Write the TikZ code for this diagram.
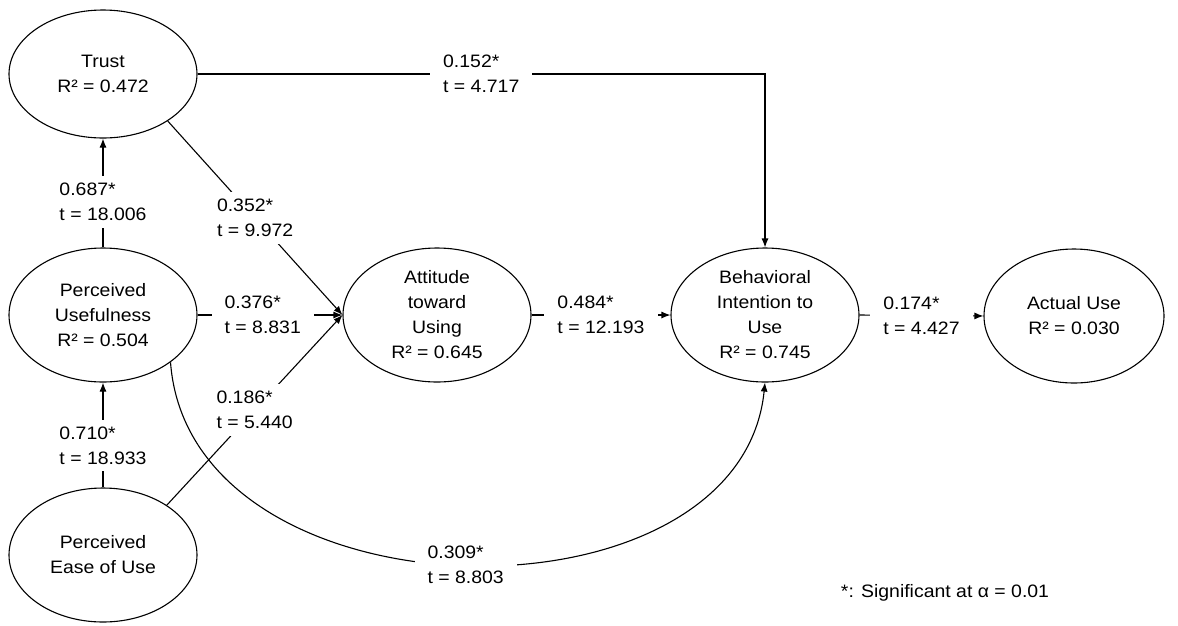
\documentclass[tikz,border=0pt]{standalone}
\usepackage{fontspec}
\setmainfont[FakeStretch=1.08]{Liberation Sans}
\usetikzlibrary{arrows.meta, shapes.geometric}

\begin{document}
\begin{tikzpicture}[
  x=1pt, y=-1pt,
  every node/.style={font=\fontsize{18}{25}\selectfont, align=center},
  construct/.style={ellipse, draw, line width=1.1pt, minimum width=188pt,
                    minimum height=134pt, inner xsep=0pt, inner ysep=-20pt},
  coef/.style     ={fill=white, align=left, inner xsep=13pt, inner ysep=7pt},
  arr/.style      ={-{Latex[length=9pt, width=7pt]}, line width=1.1pt},
]
\useasboundingbox (0,0) rectangle (1178,625);

% Constructs
\node[construct, minimum height=128pt] (trust) at (103,74)  {Trust\\R² = 0.472};
\node[construct] (pu)   at (103,315) {Perceived\\Usefulness\\R² = 0.504};
\node[construct] (peou) at (103,555) {Perceived\\Ease of Use};
\node[construct] (atu)  at (437,315) {Attitude\\toward\\Using\\R² = 0.645};
\node[construct] (bi)   at (765,315) {Behavioral\\Intention to\\Use\\R² = 0.745};
\node[construct, minimum width=180pt] (au) at (1074,316) {Actual Use\\R² = 0.030};

% Paths into Trust and PU
\draw[arr] (pu.north) -- node[coef, pos=0.42] (c2) {0.687*\\t = 18.006} (trust.south);
\draw[arr] (peou.north) -- node[coef, pos=0.4] (c6) {0.710*\\t = 18.933} (pu.south);

% Paths into Attitude
\draw[arr] (trust.-36) -- node[coef] (c3) {0.352*\\t = 9.972} (atu.west);
\draw[arr] (pu.east) -- node[coef, pos=0.45] (c4) {0.376*\\t = 8.831} (atu.west);
\draw[arr] (peou.38) -- node[coef] (c5) {0.186*\\t = 5.440} (atu.west);

% Paths into Intention
\draw[arr] (trust.east) -| node[coef, pos=0.25] (c1) {0.152*\\t = 4.717} (bi.north);
\draw[arr] (atu.east) -- node[coef] (c7) {0.484*\\t = 12.193} (bi.west);
\draw[arr] (pu.-35) .. controls (190,625) and (740,633) .. node[coef] (c9) {0.309*\\t = 8.803} (bi.south);

% Intention to use
\draw[arr] (bi.east) -- node[coef] (c8) {0.174*\\t = 4.427} (au.west);

% Note
\node (note) at (945,593) {*: Significant at α = 0.01};

\end{tikzpicture}
\end{document}
